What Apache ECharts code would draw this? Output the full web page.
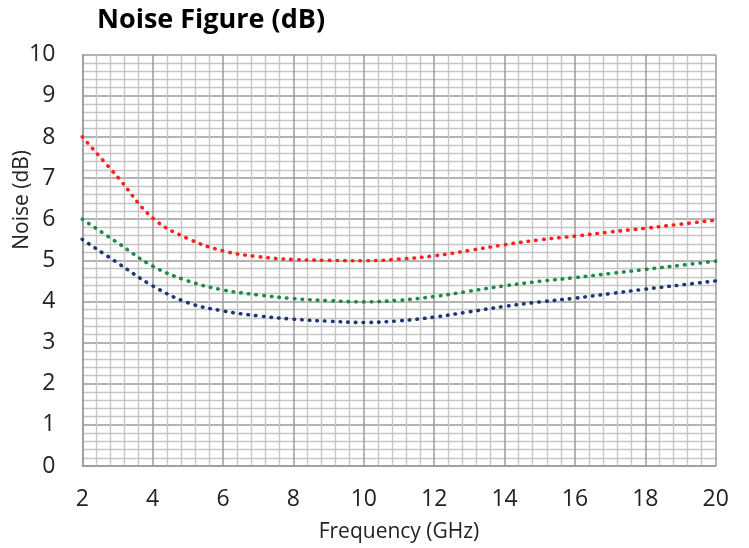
<!DOCTYPE html>
<html>
<head>
<meta charset="utf-8">
<script src="https://cdn.jsdelivr.net/npm/echarts@6/dist/echarts.min.js"></script>
<style>html,body{margin:0;padding:0;background:#fff;}#c{width:749px;height:548px;}</style>
</head>
<body>
<div id="c"></div>
<script>
var freq = [2, 3, 4, 5, 6, 7, 8, 9, 10, 11, 12, 13, 14, 15, 16, 17, 18, 19, 20];
var redNoise = [8.0, 7.03, 6.03, 5.53, 5.23, 5.09, 5.02, 5.0, 4.99, 5.03, 5.11, 5.24, 5.38, 5.5, 5.59, 5.69, 5.78, 5.88, 5.98];
var greenNoise = [6.0, 5.43, 4.86, 4.5, 4.28, 4.16, 4.07, 4.02, 3.99, 4.03, 4.12, 4.25, 4.38, 4.49, 4.58, 4.68, 4.78, 4.88, 4.98];
var blueNoise = [5.51, 4.94, 4.38, 3.97, 3.77, 3.65, 3.57, 3.52, 3.49, 3.53, 3.62, 3.75, 3.88, 3.99, 4.08, 4.19, 4.3, 4.4, 4.5];
var titleText = 'Noise Figure (dB)';
var xName = 'Frequency (GHz)';
var yName = 'Noise (dB)';

function pairs(ys){ return freq.map(function(x,i){ return [x, ys[i]]; }); }
function mk(name, ys, color){
  return {
    name: name, type: 'line', smooth: 0.4, symbol: 'none',
    data: pairs(ys),
    lineStyle: { color: color, width: 3.6, type: [0.5, 7.2], cap: 'round' }
  };
}
var font = '"Open Sans", "Noto Sans", sans-serif';
var chart = echarts.init(document.getElementById('c'));
chart.setOption({
  animation: false,
  backgroundColor: '#fff',
  title: { text: titleText, left: 97, top: 7, padding: 0,
    textStyle: { fontFamily: font, fontWeight: 'bold', fontSize: 27, color: '#000' } },
  grid: { left: 82.3, right: 33.3, top: 54.7, bottom: 80.7, containLabel: false },
  xAxis: {
    type: 'value', min: 2, max: 20, interval: 2,
    name: xName, nameLocation: 'middle', nameGap: 56,
    nameTextStyle: { fontFamily: font, fontSize: 21, color: '#222' },
    axisLine: { show: true, lineStyle: { color: '#9a9a9a', width: 1.5 } },
    axisTick: { show: false },
    axisLabel: { margin: 22, fontFamily: font, fontSize: 23, color: '#222' },
    splitLine: { show: true, lineStyle: { color: '#9a9a9a', width: 1.5 } },
    minorTick: { show: false, splitNumber: 5 },
    minorSplitLine: { show: true, lineStyle: { color: '#c6c6c6', width: 1.4 } }
  },
  yAxis: {
    type: 'value', min: 0, max: 10, interval: 1,
    axisLine: { show: true, lineStyle: { color: '#9a9a9a', width: 1.5 } },
    axisTick: { show: false },
    axisLabel: { margin: 27, fontFamily: font, fontSize: 23, color: '#222' },
    splitLine: { show: true, lineStyle: { color: '#9a9a9a', width: 1.5 } },
    minorTick: { show: false, splitNumber: 5 },
    minorSplitLine: { show: true, lineStyle: { color: '#c6c6c6', width: 1.4 } }
  },
  graphic: [{
    type: 'text', left: 12, top: 150, rotation: Math.PI / 2,
    style: { text: yName, font: '21px ' + font, fill: '#222' }
  }],
  series: [
    mk('A', redNoise, '#ff2020'),
    mk('B', greenNoise, '#1e8a4a'),
    mk('C', blueNoise, '#1f3675')
  ]
});
</script>
</body>
</html>
